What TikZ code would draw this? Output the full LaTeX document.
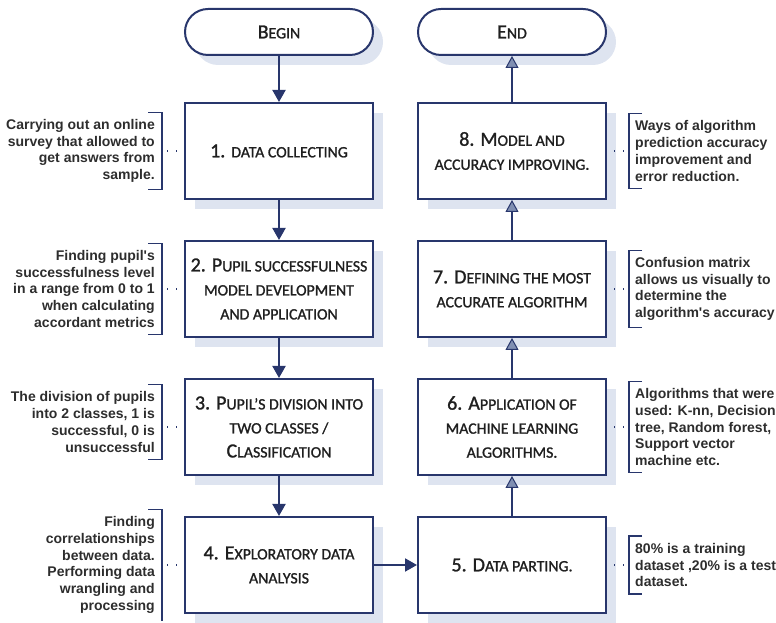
\documentclass[tikz,border=0pt]{standalone}
\usepackage{fontspec}
\setmainfont{Carlito}
\newfontfamily\boxfont{Carlito}[FakeBold=1.2, Ligatures=TeX]
\newfontfamily\notefont{Liberation Sans}
\usetikzlibrary{shapes,arrows.meta,positioning,shadows}

\definecolor{navy}{RGB}{40,54,108}
\definecolor{shade}{RGB}{222,228,240}
\definecolor{tipgrey}{RGB}{128,143,178}
\definecolor{notegrey}{RGB}{45,45,45}

% fake small caps: rest of the word a size smaller
\newcommand{\smc}[1]{{\fontsize{15.8}{24}\selectfont #1}}

\begin{document}
\begin{tikzpicture}[x=1pt, y=1pt, node distance=138pt]
    \tikzstyle{proc} = [rectangle, draw=navy, line width=2pt, fill=white, text=black!88, minimum width=188pt, minimum height=96pt, align=center, font=\boxfont\fontsize{20}{24}\selectfont, drop shadow={shadow xshift=10pt, shadow yshift=-10pt, fill=shade, opacity=1}]
    \tikzstyle{term} = [proc, minimum height=46pt, rounded corners=23pt]
    \tikzstyle{down} = [draw=navy, line width=2pt, -{Triangle[length=12pt, width=13pt]}]
    \tikzstyle{up} = [draw=navy, line width=1.8pt, -{Triangle[length=12pt, width=13pt, fill=tipgrey, line width=1pt]}]
    \tikzstyle{note} = [font=\notefont\bfseries\fontsize{14}{16.7}\selectfont, text=notegrey, inner xsep=0pt, inner ysep=7pt]
    \tikzstyle{lnote} = [note, align=right]
    \tikzstyle{rnote} = [note, align=left]
    \tikzstyle{brk} = [draw=navy, line width=1.2pt]
    \tikzstyle{dots} = [draw=navy, line width=1.2pt, dash pattern=on 1.2pt off 7.8pt]

    \useasboundingbox (0,0) rectangle (776,623);

    % left column, going down
    \node [proc] (collect) at (279,472) {1. \smc{DATA COLLECTING}};
    \node [term, node distance=119pt, above of=collect] (start) {B\smc{EGIN}};
    \node [proc, below of=collect] (model) {2. P\smc{UPIL SUCCESSFULNESS}\\\smc{MODEL DEVELOPMENT}\\\smc{AND APPLICATION}};
    \node [proc, below of=model] (divide) {3. P\smc{UPIL'S DIVISION INTO}\\\smc{TWO CLASSES /}\\C\smc{LASSIFICATION}};
    \node [proc, below of=divide] (explore) {4. E\smc{XPLORATORY DATA}\\\smc{ANALYSIS}};

    % right column, going up
    \node [proc] (improve) at (512,472) {8. M\smc{ODEL AND}\\\smc{ACCURACY IMPROVING.}};
    \node [term, node distance=119pt, above of=improve] (stop) {E\smc{ND}};
    \node [proc, below of=improve] (define) {7. D\smc{EFINING THE MOST}\\\smc{ACCURATE ALGORITHM}};
    \node [proc, below of=define] (apply) {6. A\smc{PPLICATION OF}\\\smc{MACHINE LEARNING}\\\smc{ALGORITHMS.}};
    \node [proc, below of=apply] (parting) {5. D\smc{ATA PARTING.}};

    % side notes
    \node [lnote, left=29pt of collect] (collectnote) {Carrying out an online\\survey that allowed to\\get answers from\\sample.};
    \node [lnote, left=29pt of model] (modelnote) {Finding pupil's\\successfulness level\\in a range from 0 to 1\\when calculating\\accordant metrics};
    \node [lnote, left=29pt of divide, yshift=5pt] (dividenote) {The division of pupils\\into 2 classes, 1 is\\successful, 0 is\\unsuccessful};
    \node [lnote, left=29pt of explore] (explorenote) {Finding\\correlationships\\between data.\\Performing data\\wrangling and\\processing};
    \node [rnote, right=28pt of improve] (improvenote) {Ways of algorithm\\prediction accuracy\\improvement and\\error reduction.};
    \node [rnote, right=28pt of define] (definenote) {Confusion matrix\\allows us visually to\\determine the\\algorithm's accuracy};
    \node [rnote, right=28pt of apply] (applynote) {Algorithms that were\\used: K-nn, Decision\\tree, Random forest,\\Support vector\\machine etc.};
    \node [rnote, right=28pt of parting] (partingnote) {80\% is a training\\dataset ,20\% is a test\\dataset.};

    % flow
    \path [down] (start) -- (collect);
    \path [down] (collect) -- (model);
    \path [down] (model) -- (divide);
    \path [down] (divide) -- (explore);
    \path [down] (explore) -- (parting);
    \path [up] (parting) -- (apply);
    \path [up] (apply) -- (define);
    \path [up] (define) -- (improve);
    \path [up] (improve) -- (stop);

    % brackets round the notes
    \draw [brk] ([xshift=-7pt]collectnote.north east) -- ([xshift=7pt]collectnote.north east) -- ([xshift=7pt]collectnote.south east) -- ([xshift=-7pt]collectnote.south east);
    \draw [brk] ([xshift=-7pt]modelnote.north east) -- ([xshift=7pt]modelnote.north east) -- ([xshift=7pt]modelnote.south east) -- ([xshift=-7pt]modelnote.south east);
    \draw [brk] ([xshift=-7pt]dividenote.north east) -- ([xshift=7pt]dividenote.north east) -- ([xshift=7pt]dividenote.south east) -- ([xshift=-7pt]dividenote.south east);
    \draw [brk] ([xshift=-7pt]explorenote.north east) -- ([xshift=7pt]explorenote.north east) -- ++(0,-112pt);
    \draw [brk] ([xshift=7pt]improvenote.north west) -- ([xshift=-6pt]improvenote.north west) -- ([xshift=-6pt]improvenote.south west) -- ([xshift=7pt]improvenote.south west);
    \draw [brk] ([xshift=7pt]definenote.north west) -- ([xshift=-6pt]definenote.north west) -- ([xshift=-6pt]definenote.south west) -- ([xshift=7pt]definenote.south west);
    \draw [brk] ([xshift=7pt]applynote.north west) -- ([xshift=-6pt]applynote.north west) -- ([xshift=-6pt]applynote.south west) -- ([xshift=7pt]applynote.south west);
    \draw [brk] ([xshift=7pt]partingnote.north west) -- ([xshift=-6pt]partingnote.north west) -- ([xshift=-6pt]partingnote.south west) -- ([xshift=7pt]partingnote.south west);

    % dotted leaders
    \draw [dots] (collect.west) ++(-17pt,0) -- (collect.west);
    \draw [dots] (model.west) ++(-17pt,0) -- (model.west);
    \draw [dots] (divide.west) ++(-17pt,0) -- (divide.west);
    \draw [dots] (explore.west) ++(-17pt,0) -- (explore.west);
    \draw [dots] (improve.east) ++(7pt,0) -- ++(12pt,0);
    \draw [dots] (define.east) ++(7pt,0) -- ++(12pt,0);
    \draw [dots] (apply.east) ++(7pt,0) -- ++(12pt,0);
    \draw [dots] (parting.east) ++(7pt,0) -- ++(12pt,0);
\end{tikzpicture}
\end{document}
